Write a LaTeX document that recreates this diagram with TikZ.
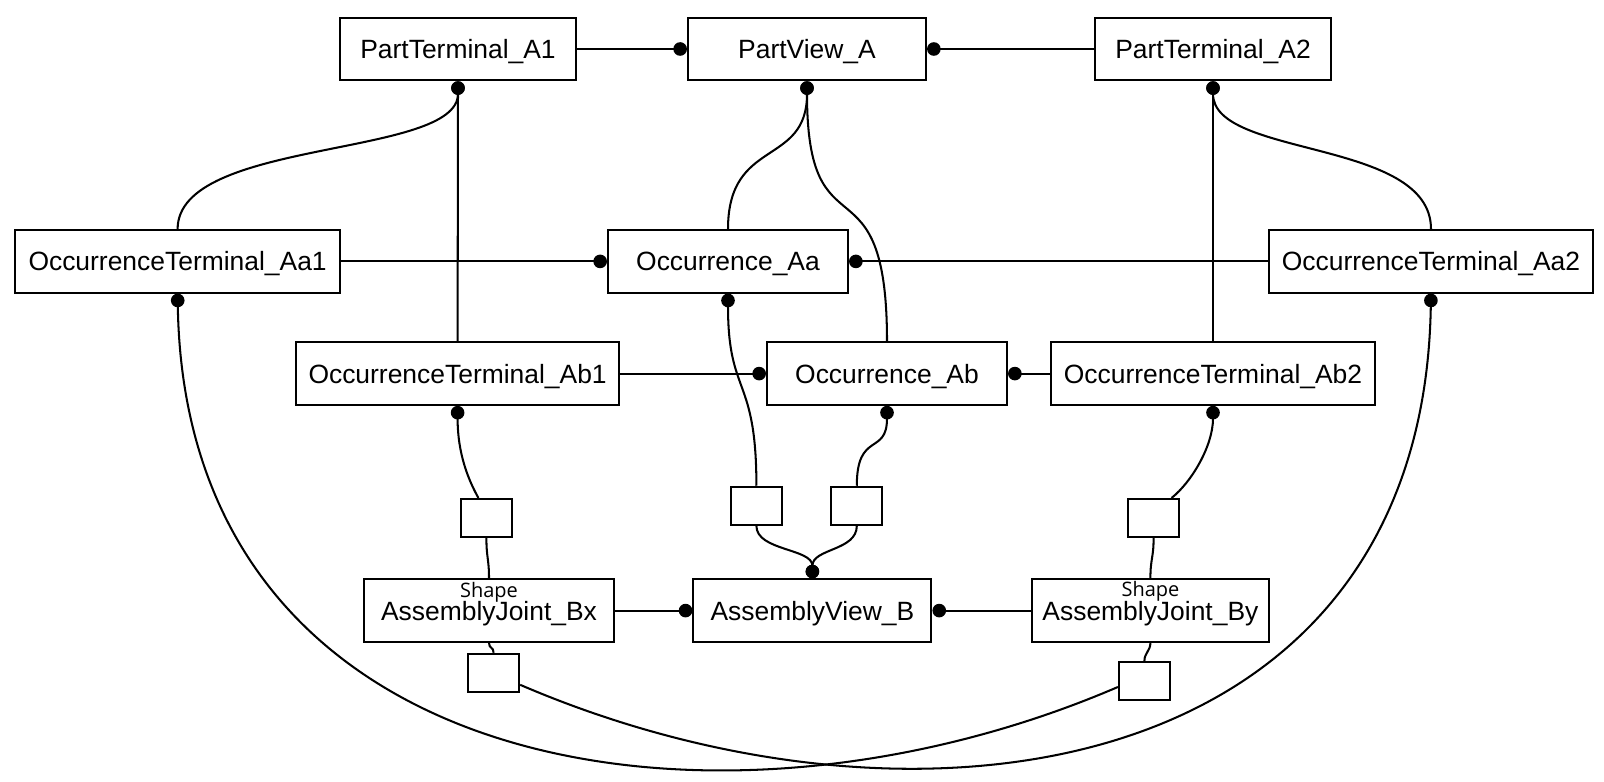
\documentclass[tikz,border=0pt]{standalone}
\usepackage{fontspec}
\setmainfont{Liberation Sans}
\newfontfamily\shapefont{Open Sans}
\usetikzlibrary{arrows.meta}

\begin{document}
\begin{tikzpicture}[
  box/.style={draw, line width=1.5pt, minimum height=1.56cm, inner sep=0pt,
    font=\fontsize{18.8}{22}\selectfont, text height=13.4pt, text depth=0pt},
  port/.style={draw, line width=1.5pt, minimum width=1.275cm, minimum height=0.95cm, inner sep=0pt},
  link/.style={line width=1.45pt},
  dotend/.style={link, -{Circle[length=0.34cm]}},
  dotstart/.style={link, {Circle[length=0.34cm]}-},
  shapelbl/.style={font=\shapefont\fontsize{14.2}{16}\selectfont, inner sep=0pt}
]
\path[use as bounding box, fill=white] (0,0) rectangle (40.1,-19.55);

% Part level
\node[box, minimum width=5.9cm] (ptA1) at (11.45,-1.225) {PartTerminal\_A1};
\node[box, minimum width=5.95cm] (pvA) at (20.175,-1.225) {PartView\_A};
\node[box, minimum width=5.9cm] (ptA2) at (30.325,-1.225) {PartTerminal\_A2};

% Occurrences
\node[box, minimum width=8.125cm] (otAa1) at (4.44,-6.535) {OccurrenceTerminal\_Aa1};
\node[box, minimum width=6cm] (ocAa) at (18.2,-6.535) {Occurrence\_Aa};
\node[box, minimum width=8.1cm] (otAa2) at (35.775,-6.535) {OccurrenceTerminal\_Aa2};
\node[box, minimum width=8.075cm] (otAb1) at (11.44,-9.34) {OccurrenceTerminal\_Ab1};
\node[box, minimum width=6cm] (ocAb) at (22.175,-9.34) {Occurrence\_Ab};
\node[box, minimum width=8.1cm] (otAb2) at (30.325,-9.34) {OccurrenceTerminal\_Ab2};

% Assembly level
\node[box, minimum width=6.25cm] (ajBx) at (12.225,-15.265) {AssemblyJoint\_Bx};
\node[box, minimum width=5.95cm] (avB) at (20.31,-15.265) {AssemblyView\_B};
\node[box, minimum width=5.925cm] (ajBy) at (28.76,-15.265) {AssemblyJoint\_By};
\node[shapelbl, anchor=base] (lblBx) at ([yshift=-0.47cm]ajBx.north) {Shape};
\node[shapelbl, anchor=base] (lblBy) at ([yshift=-0.45cm]ajBy.north) {Shape};

% Small boxes
\node[port] (shBxT) at (12.16,-12.95) {};
\node[port] (shBxB) at (12.34,-16.82) {};
\node[port] (shAa) at (18.91,-12.645) {};
\node[port] (shAb) at (21.42,-12.645) {};
\node[port] (shByT) at (28.84,-12.95) {};
\node[port] (shByB) at (28.61,-17.025) {};

% Straight links
\draw[dotend] (ptA1.east) -- (pvA.west);
\draw[dotend] (ptA2.west) -- (pvA.east);
\draw[dotend] (otAa1.east) -- (ocAa.west);
\draw[dotend] (otAa2.west) -- (ocAa.east);
\draw[dotend] (otAb1.east) -- (ocAb.west);
\draw[dotend] (otAb2.west) -- (ocAb.east);
\draw[dotend] (ajBx.east) -- (avB.west);
\draw[dotend] (ajBy.west) -- (avB.east);
\draw[dotend] (otAb1.north) -- (ptA1.south);
\draw[dotend] (otAb2.north) -- (ptA2.south);

% Curved links to the part
\draw[dotend] (otAa1.north) .. controls +(0,2.275) and +(0,-1.925) .. (ptA1.south);
\draw[dotend] (otAa2.north) .. controls +(0,2.275) and +(0,-1.925) .. (ptA2.south);
\draw[dotend] (ocAa.north) .. controls +(0,2.3) and +(0,-2.15) .. (pvA.south);
\draw[dotend] (ocAb.north) .. controls +(0,4.8) and +(0,-4.525) .. (pvA.south);

% Links to the small boxes
\draw[dotend] (shAa.north) .. controls +(0,2.775) and +(0,-2.575) .. (ocAa.south);
\draw[dotend] (shAb.north) .. controls +(0,1.375) and +(0,-1.25) .. (ocAb.south);
\draw[dotend] (shAa.south) .. controls +(0,-0.625) and +(0,0.75) .. (avB.north);
\draw[dotend] (shAb.south) .. controls +(0,-0.625) and +(0,0.75) .. (avB.north);
\draw[dotend] ([xshift=-0.2cm]shBxT.north) .. controls +(-0.25,0.45) and +(0,-1.2) .. (otAb1.south);
\draw[dotend] ([xshift=0.45cm]shByT.north) .. controls +(0.5,0.4) and +(0,-1) .. (otAb2.south);
\draw[link] (shBxT.south) .. controls +(0,-0.5) and +(0,0.5) .. (ajBx.north);
\draw[link] (ajBx.south) .. controls +(0,-0.15) and +(0,0.15) .. (shBxB.north);
\draw[link] (shByT.south) .. controls +(0,-0.5) and +(0,0.5) .. (ajBy.north);
\draw[link] (ajBy.south) .. controls +(0,-0.2) and +(0,0.2) .. (shByB.north);

% Long bottom curves
\draw[dotstart] (otAa1.south) .. controls +(0.2,-12.175) and +(-10,-4.3) .. ([yshift=-0.15cm]shByB.west);
\draw[dotend] ([yshift=-0.3cm]shBxB.east) .. controls +(10,-4.3) and +(-0.2,-12.175) .. (otAa2.south);
\end{tikzpicture}
\end{document}
